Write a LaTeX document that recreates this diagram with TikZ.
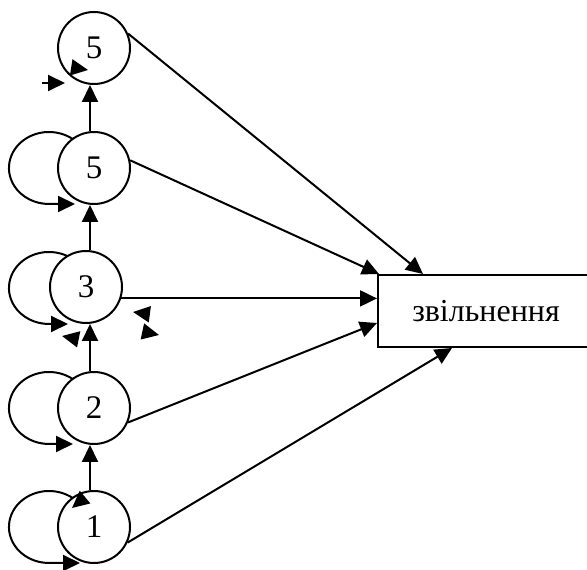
\documentclass[tikz,border=0pt]{standalone}
\usepackage{fontspec}
\setmainfont{Liberation Serif}
\usetikzlibrary{arrows.meta}
\begin{document}
\begin{tikzpicture}[x=1pt,y=1pt,
  st/.style={circle, draw, line width=2pt, fill=white, minimum size=72pt, inner sep=0pt, font=\fontsize{33}{36}\selectfont},
  outbox/.style={rectangle, draw, line width=2pt, minimum width=216pt, minimum height=72pt, inner sep=0pt, font=\fontsize{32}{36}\selectfont},
  arr/.style={line width=2pt, -{Triangle[length=17pt,width=16pt]}},
  selfloop/.style={line width=2pt, -{Triangle[length=17pt,width=16pt]}}
]
\useasboundingbox (0,0) rectangle (587,570);
% self loops (drawn first, partly hidden by the circles)
\draw[selfloop] (83.6,420) arc[start angle=30, end angle=270, x radius=40pt, y radius=36pt] -- (75,366);
\draw[selfloop] (83.6,300) arc[start angle=30, end angle=270, x radius=40pt, y radius=36pt] -- (68,246);
\draw[selfloop] (83.6,180) arc[start angle=30, end angle=270, x radius=40pt, y radius=36pt] -- (73,126);
\draw[selfloop] (83.6,61) arc[start angle=30, end angle=270, x radius=40pt, y radius=36pt] -- (80,7);
% states
\node[st] (n5t) at (94,522) {5};
\node[st] (n5b) at (94,402) {5};
\node[st] (n3) at (86,283) {3};
\node[st] (n2) at (94,162) {2};
\node[st] (n1) at (94,43) {1};
\node[outbox] (box) at (486,259) {звільнення};
% vertical transitions
\draw[arr] ([xshift=-4pt]n1.north) -- ([xshift=-4pt]n2.south);
\draw[arr] ([xshift=-4pt]n2.north) -- ([xshift=4pt]n3.south);
\draw[arr] ([xshift=4pt]n3.north) -- ([xshift=-4pt]n5b.south);
\draw[arr] ([xshift=-4pt]n5b.north) -- ([xshift=-4pt]n5t.south);
% transitions to the box
\draw[arr] (n5t.23) -- ([xshift=-63pt]box.north);
\draw[arr] (n5b.12) -- ([xshift=2pt]box.north west);
\draw[arr] (n3.-18) -- (n3.-18 -| box.west);
\draw[arr] (n2.-23) -- ([yshift=-12pt]box.west);
\draw[arr] (n1.-25) -- ([xshift=-34pt]box.south);
% stray arrowheads
\coordinate (s1a) at (42,487); \coordinate (s1b) at (65,487);
\coordinate (s2a) at (72,502.5); \coordinate (s2b) at (88,500);
\coordinate (s3a) at (77,231); \coordinate (s3b) at (62,234);
\coordinate (s4a) at (148,256); \coordinate (s4b) at (133,258);
\coordinate (s5a) at (145,238); \coordinate (s5b) at (159,235);
\coordinate (s6a) at (84,72); \coordinate (s6b) at (72,62);
\draw[arr] (s1a) -- (s1b);
\draw[arr] (s2a) -- (s2b);
\draw[arr] (s3a) -- (s3b);
\draw[arr] (s4a) -- (s4b);
\draw[arr] (s5a) -- (s5b);
\draw[arr] (s6a) -- (s6b);
\end{tikzpicture}
\end{document}
